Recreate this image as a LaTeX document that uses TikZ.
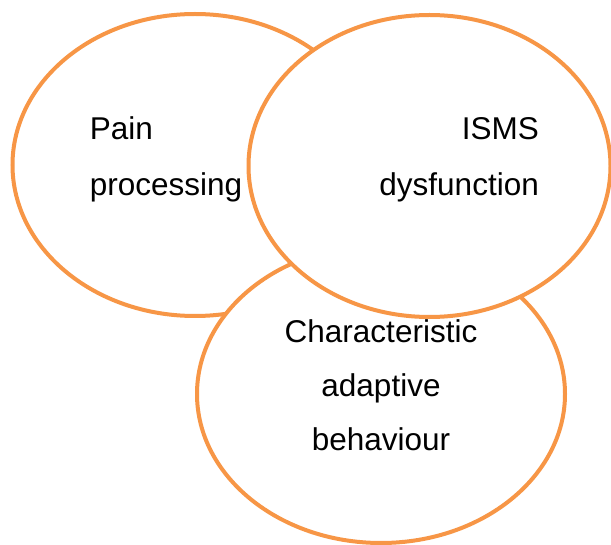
\documentclass[tikz,border=0pt]{standalone}
\usepackage{fontspec}
\setmainfont{Liberation Sans}
\usetikzlibrary{shapes.geometric}
\definecolor{ringorange}{HTML}{F79646}
\begin{document}
\begin{tikzpicture}[x=1pt,y=-1pt,
  ring/.style={ellipse,draw=ringorange,line width=4pt,fill=white,inner sep=0pt},
  label/.style={inner sep=0pt}]
\useasboundingbox (0,0) rectangle (611,545);
\node[ring,minimum width=365pt,minimum height=302pt] (left) at (195,165) {};
\node[ring,minimum width=368pt,minimum height=298pt] (bottom) at (381,394) {};
\node[ring,minimum width=362pt,minimum height=302pt] (right) at (429.5,166) {};
\node[label,font=\fontsize{31.5}{56}\selectfont,align=left,anchor=base west] (pain) at (89.6,196) {Pain\\processing};
\node[label,font=\fontsize{31.5}{56}\selectfont,align=right,anchor=base east] (isms) at (539,196) {ISMS\\dysfunction};
\node[label,font=\fontsize{31.5}{54.5}\selectfont,align=center,anchor=base] (cab) at (381,451) {Characteristic\\adaptive\\behaviour};
\end{tikzpicture}
\end{document}
